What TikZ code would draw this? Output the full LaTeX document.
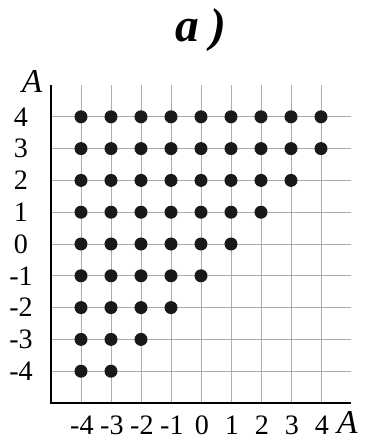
\documentclass[tikz,border=0pt]{standalone}
\usepackage{fontspec}
\setmainfont{Liberation Serif}

\begin{document}
\begin{tikzpicture}[x=0.6cm, y=0.636cm,
    gridline/.style={gray!65, line width=0.4pt},
    ticklabel/.style={font=\fontsize{16}{18}\selectfont, inner sep=0pt},
    axislabel/.style={font=\fontsize{19}{22}\selectfont\itshape, inner sep=0pt}]
    \useasboundingbox (-6.7,-6.195) rectangle (5.533,7.673);

    % --- Grid lines ---
    \foreach \i in {-4,...,4} {
        \draw[gridline] (\i,-5) -- (\i,5);
        \draw[gridline] (-5,\i) -- (5,\i);
    }

    % --- Axes ---
    \draw[line width=1pt] (-5,5) -- (-5,-5) -- (5,-5);

    % --- Filled points (x <= y+1) ---
    \foreach \y [evaluate=\y as \xmax using {int(min(\y+1,4))}] in {-4,...,4} {
        \foreach \x in {-4,...,\xmax} {
            \fill[black!90] (\x,\y) circle[radius=0.13cm];
        }
    }

    % --- Tick labels ---
    \foreach \k in {-4,...,4} {
        \node[ticklabel] (ylab\k) at (-6,\k) {\k};
        \node[ticklabel] (xlab\k) at (\k+0.03,-5.7) {\k};
    }
    \node[axislabel] (yname) at (-5.63,5.1) {A};
    \node[axislabel] (xname) at (4.88,-5.62) {A};

    % Title
    \node[font=\fontsize{27}{30}\selectfont\bfseries\itshape] (title) at (0,6.73) {a )};
\end{tikzpicture}
\end{document}
